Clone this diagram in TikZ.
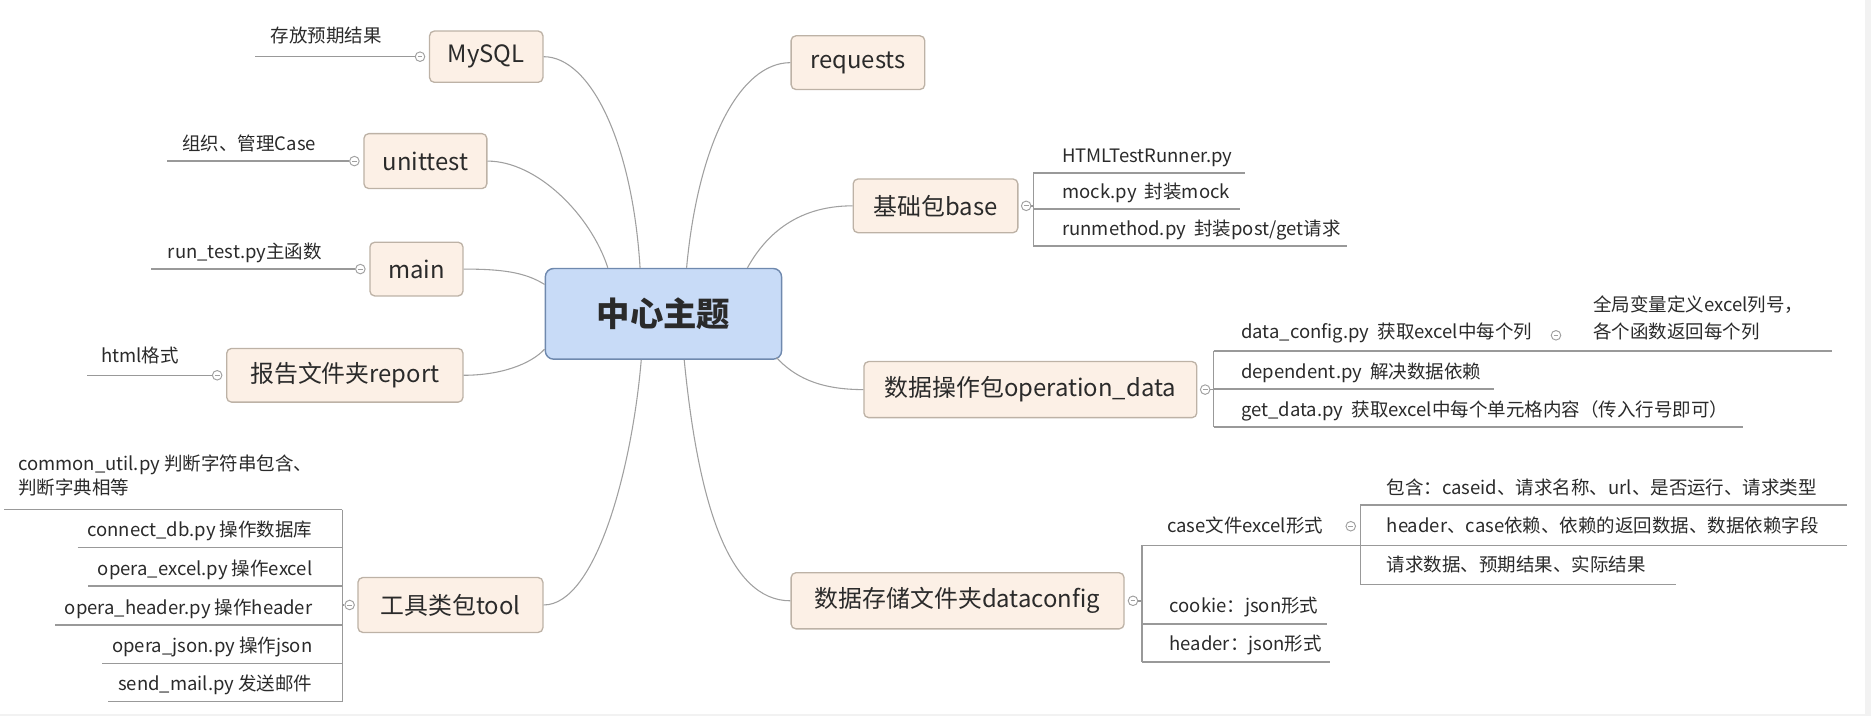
\documentclass[tikz,border=0pt]{standalone}
\usepackage{fontspec}
\setmainfont{Noto Sans CJK SC}
\usetikzlibrary{calc}
\definecolor{boxfill}{HTML}{FCF0E6}
\definecolor{boxline}{HTML}{BDB2A6}
\definecolor{cfill}{HTML}{C8DBF7}
\definecolor{cline}{HTML}{6F89AE}
\definecolor{lgray}{HTML}{A0A0A0}
\definecolor{dgray}{HTML}{999999}
\definecolor{txt}{HTML}{2A2A2A}
\definecolor{edgegray}{HTML}{F2F2F2}
\begin{document}
\begin{tikzpicture}[x=1pt,y=-1pt,
  topic/.style={draw=boxline, fill=boxfill, rounded corners=4pt, line width=1.1pt,
    font=\fontsize{20}{23}\selectfont, text=txt, minimum height=45pt, inner sep=0pt},
  centre/.style={draw=cline, fill=cfill, rounded corners=7pt, line width=1.2pt,
    font=\fontsize{28}{32}\selectfont\bfseries, text=txt, minimum width=198pt, minimum height=76pt},
  conn/.style={draw=lgray, line width=0.9pt},
  sub/.style={draw=dgray, line width=1.3pt},
  leaf/.style={font=\fontsize{15.5}{20}\selectfont, text=txt, inner sep=0pt},
  collapse/.style={circle, draw=lgray, fill=white, inner sep=0pt, minimum size=8pt, line width=0.8pt,
    path picture={\draw[lgray, line width=0.7pt] ([xshift=-2pt]path picture bounding box.center) -- ([xshift=2pt]path picture bounding box.center);}}
]
\useasboundingbox (0,0) rectangle (1568,600);
\fill[edgegray] (1563,0) rectangle (1568,600);
\fill[edgegray] (0,598.5) rectangle (1568,600);

% central
\node[centre] (ct) at (556,263) {中心主题};
\coordinate (cT1) at ($(ct.north west)+(53,0)$);
\coordinate (cT2) at ($(ct.north west)+(80,0)$);
\coordinate (cT3) at ($(ct.north west)+(119,0)$);
\coordinate (cT4) at ($(ct.north west)+(170,0)$);
\coordinate (cB1) at ($(ct.south west)+(81,0)$);
\coordinate (cB2) at ($(ct.south west)+(117,0)$);
\coordinate (cL1) at ($(ct.north west)+(0,14)$);
\coordinate (cL2) at ($(ct.south west)+(0,-9)$);
\coordinate (cR) at ($(ct.south east)+(-5,-2)$);

% left topics
\node[topic, minimum width=95pt, minimum height=43pt] (mysql) at (407.5,47.5) {MySQL};
\node[topic, minimum width=103pt, minimum height=46pt] (unit) at (356.5,135) {unittest};
\node[topic, minimum width=78pt] (main) at (349,225.5) {main};
\node[topic, minimum width=198pt] (rep) at (289,314.5) {报告文件夹report};
\node[topic, minimum width=155pt, minimum height=46pt] (tool) at (377.5,507) {工具类包tool};

% right topics
\node[topic, minimum width=112pt] (req) at (719,52.5) {requests};
\node[topic, minimum width=138pt] (base) at (784,172.5) {基础包base};
\node[topic, minimum width=279pt, minimum height=47pt] (opd) at (863.5,326.5) {数据操作包operation\_data};
\node[topic, minimum width=279pt, minimum height=47pt] (dcf) at (802.5,503.5) {数据存储文件夹dataconfig};

% connectors to the centre
\draw[conn] (mysql.east) .. controls (495,47.5) and (530,120) .. (cT2);
\draw[conn] (unit.east) .. controls (450,135) and (495,180) .. (cT1);
\draw[conn] (main.east) .. controls (420,225.5) and (440,228) .. (cL1);
\draw[conn] (rep.east) .. controls (420,314.5) and (445,305) .. (cL2);
\draw[conn] (tool.east) .. controls (500,507) and (530,390) .. (cB1);
\draw[conn] (req.west) .. controls (620,52.5) and (585,120) .. (cT3);
\draw[conn] (base.west) .. controls (665,172.5) and (640,200) .. (cT4);
\draw[conn] (opd.west) .. controls (685,326.5) and (665,315) .. (cR);
\draw[conn] (dcf.west) .. controls (610,503.5) and (585,420) .. (cB2);

% ---- left leaves
\node[collapse] (k1) at (352,47.5) {};
\node[leaf, anchor=base east] (l1) at (320,36) {存放预期结果};
\draw[sub] (k1.west) -- ($(l1.west |- k1.west)+(-13,0)$);

\node[collapse] (k2) at (297,135) {};
\node[leaf, anchor=base east] (l2) at (265,126) {组织、管理Case};
\draw[sub] (k2.west) -- ($(l2.west |- k2.west)+(-13,0)$);

\node[collapse] (k3) at (302,225.5) {};
\node[leaf, anchor=base east] (l3) at (270,217) {run\_test.py主函数};
\draw[sub] (k3.west) -- ($(l3.west |- k3.west)+(-14,0)$);

\node[collapse] (k4) at (182,314.5) {};
\node[leaf, anchor=base east] (l4) at (150,304) {html格式};
\draw[sub] (k4.west) -- ($(l4.west |- k4.west)+(-12,0)$);

% ---- tool leaves
\node[collapse] (k5) at (293,507) {};
\coordinate (tbT) at (287,427);
\coordinate (tbB) at (287,588);
\draw[sub] (k5.west) -- (k5.west -| tbT);
\draw[sub] (tbT) -- (tbB);
\node[leaf, anchor=north west, align=left] (tc) at (15,381) {common\_util.py 判断字符串包含、\\判断字典相等};
\draw[sub] (tbT) -- (3,427);
\node[leaf, anchor=base east] (td) at (262,450) {connect\_db.py 操作数据库};
\draw[sub] ($(td.base west)+(-8,9)$) -- ($(td.base east)+(25,9)$);
\node[leaf, anchor=base east] (te) at (262,482) {opera\_excel.py 操作excel};
\draw[sub] ($(te.base west)+(-8,9)$) -- ($(te.base east)+(25,9)$);
\node[leaf, anchor=base east] (th) at (262,515) {opera\_header.py 操作header};
\draw[sub] ($(th.base west)+(-8,9)$) -- ($(th.base east)+(25,9)$);
\node[leaf, anchor=base east] (tj) at (262,547) {opera\_json.py 操作json};
\draw[sub] ($(tj.base west)+(-8,9)$) -- ($(tj.base east)+(25,9)$);
\node[leaf, anchor=base east] (tm) at (262,579) {send\_mail.py 发送邮件};
\draw[sub] ($(tm.base west)+(-8,9)$) -- ($(tm.base east)+(25,9)$);

% ---- base leaves
\node[collapse] (k6) at (860,172.5) {};
\node[leaf, anchor=base west] (b1) at (890,136) {HTMLTestRunner.py};
\node[leaf, anchor=base west] (b2) at (890,166) {mock.py~ 封装mock};
\node[leaf, anchor=base west] (b3) at (890,197) {runmethod.py~ 封装post/get请求};
\draw[sub] ($(b1.base west)+(-24,9)$) -- ($(b3.base west)+(-24,9)$);
\draw[sub] (k6.east) -- (k6.east -| 866,0);
\draw[sub] ($(b1.base west)+(-24,9)$) -- ($(b1.base east)+(10,9)$);
\draw[sub] ($(b2.base west)+(-24,9)$) -- ($(b2.base east)+(8,9)$);
\draw[sub] ($(b3.base west)+(-24,9)$) -- ($(b3.base east)+(5,9)$);

% ---- operation_data leaves
\node[collapse] (k7) at (1010,326.5) {};
\node[leaf, anchor=base west] (o1) at (1040,284) {data\_config.py~ 获取excel中每个列};
\node[collapse] (k8) at (1304,281) {};
\node[leaf, anchor=north west, align=left, font=\fontsize{15.5}{22}\selectfont] (o4) at (1335,248) {全局变量定义excel列号，\\各个函数返回每个列};
\node[leaf, anchor=base west] (o2) at (1040,317) {dependent.py~ 解决数据依赖};
\node[leaf, anchor=base west] (o3) at (1040,349) {get\_data.py~ 获取excel中每个单元格内容（传入行号即可）};
\draw[sub] (k7.east) -- (k7.east -| 1017,0);
\draw[sub] ($(o1.base west)+(-23,10)$) -- ($(o3.base west)+(-23,9)$);
\draw[sub] ($(o1.base west)+(-23,10)$) -- (1535,294);
\draw[sub] ($(o2.base west)+(-23,9)$) -- ($(o2.base east)+(10,9)$);
\draw[sub] ($(o3.base west)+(-23,9)$) -- ($(o3.base east)+(12,9)$);

% ---- dataconfig leaves
\node[collapse] (k9) at (949.5,503.5) {};
\node[leaf, anchor=base west] (d1) at (978,446) {case文件excel形式};
\node[leaf, anchor=base west] (d2) at (980,513) {cookie：json形式};
\node[leaf, anchor=base west] (d3) at (980,545) {header：json形式};
\draw[sub] (k9.east) -- (k9.east -| 957,0);
\draw[sub] (957,457) -- ($(d3.base west)+(-23,10)$);
\draw[sub] (957,457) -- (1548,457);
\draw[sub] ($(d2.base west)+(-23,10)$) -- ($(d2.base east)+(7,10)$);
\draw[sub] ($(d3.base west)+(-23,10)$) -- ($(d3.base east)+(7,10)$);

\node[collapse] (k10) at (1132,441) {};
\node[leaf, anchor=base west] (e1) at (1162,414) {包含：caseid、请求名称、url、是否运行、请求类型};
\node[leaf, anchor=base west] (e2) at (1162,446) {header、case依赖、依赖的返回数据、数据依赖字段};
\node[leaf, anchor=base west] (e3) at (1162,479) {请求数据、预期结果、实际结果};
\draw[sub] ($(e1.base west)+(-22,9)$) -- ($(e3.base west)+(-22,11)$);
\draw[sub] ($(e1.base west)+(-22,9)$) -- (1548,423);
\draw[sub] ($(e3.base west)+(-22,11)$) -- ($(e3.base east)+(25,11)$);
\end{tikzpicture}
\end{document}
